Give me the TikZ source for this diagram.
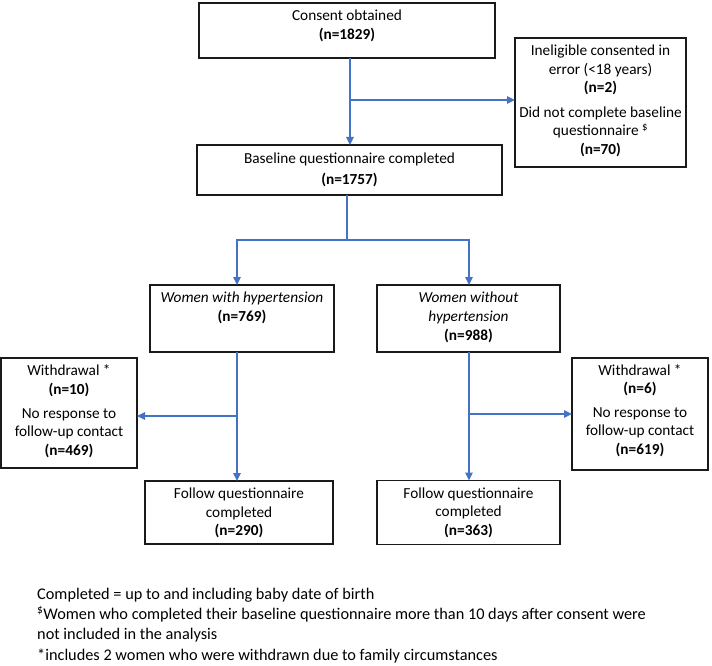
\documentclass[tikz,border=0pt]{standalone}
\usepackage{fontspec}
\setmainfont{Carlito}
\usetikzlibrary{arrows.meta}
\definecolor{flow}{HTML}{4472C4}
\definecolor{edge}{HTML}{1A1A1A}
\begin{document}
\begin{tikzpicture}[x=1pt,y=-1pt,
  box/.style={draw=edge, line width=1.1pt, inner sep=0pt, outer sep=0pt},
  arr/.style={draw=flow, line width=1.4pt, -{Triangle[length=8pt,width=7.5pt]}},
  ln/.style={draw=flow, line width=1.1pt},
  tx/.style={inner sep=0pt, anchor=mid, font=\fontsize{15.3}{18}\selectfont},
  bx/.style={tx, font=\fontsize{15.3}{18}\selectfont\bfseries},
  itx/.style={tx, font=\fontsize{15.3}{18}\selectfont\itshape},
  fn/.style={inner sep=0pt, anchor=mid west, font=\fontsize{16.3}{18}\selectfont}]
\useasboundingbox[fill=white] (0,0) rectangle (712,666);

% boxes
\node[box, minimum width=296pt, minimum height=55pt] (consent) at (347,30.5) {};
\node[box, minimum width=171pt, minimum height=129pt] (inelig) at (600.5,102.5) {};
\node[box, minimum width=305pt, minimum height=50pt] (baseline) at (349.5,170) {};
\node[box, minimum width=184pt, minimum height=67pt] (hyp) at (242,318.5) {};
\node[box, minimum width=183pt, minimum height=67pt] (nohyp) at (468.5,318.5) {};
\node[box, minimum width=136pt, minimum height=110pt] (wdL) at (69,413) {};
\node[box, minimum width=136pt, minimum height=112pt] (wdR) at (640,414) {};
\node[box, minimum width=188pt, minimum height=63pt] (folL) at (239,512.5) {};
\node[box, minimum width=183pt, minimum height=64pt] (folR) at (468.5,512.5) {};

% texts
\node[tx] (c1) at (347,18) {Consent obtained};
\node[bx] (c2) at (347,37) {(n=1829)};

\node[tx] (i1) at (600.5,53) {Ineligible consented in};
\node[tx] (i2) at (600.5,72) {error (<18 years)};
\node[bx] (i3) at (600.5,90) {(n=2)};
\node[tx] (i4) at (600.5,115) {Did not complete baseline};
\node[tx] (i5) at (600.5,133) {questionnaire \textsuperscript{\$}};
\node[bx] (i6) at (600.5,152) {(n=70)};

\node[tx] (b1) at (349.5,161) {Baseline questionnaire completed};
\node[bx] (b2) at (349.5,182) {(n=1757)};

\node[itx] (h1) at (242,300) {Women with hypertension};
\node[bx] (h2) at (242,319) {(n=769)};

\node[itx] (n1) at (468.5,300) {Women without};
\node[itx] (n2) at (468.5,319) {hypertension};
\node[bx] (n3) at (468.5,338) {(n=988)};

\node[tx] (l1) at (69,373) {Withdrawal *};
\node[bx] (l2) at (69,392) {(n=10)};
\node[tx] (l3) at (69,416) {No response to};
\node[tx] (l4) at (69,434) {follow-up contact};
\node[bx] (l5) at (69,453) {(n=469)};

\node[tx] (r1) at (640,373) {Withdrawal *};
\node[bx] (r2) at (640,391) {(n=6)};
\node[tx] (r3) at (640,415) {No response to};
\node[tx] (r4) at (640,433) {follow-up contact};
\node[bx] (r5) at (640,452) {(n=619)};

\node[tx] (fl1) at (239,496) {Follow questionnaire};
\node[tx] (fl2) at (239,515) {completed};
\node[bx] (fl3) at (239,533) {(n=290)};

\node[tx] (fr1) at (468.5,496) {Follow questionnaire};
\node[tx] (fr2) at (468.5,514) {completed};
\node[bx] (fr3) at (468.5,533) {(n=363)};

% footnotes
\node[fn] (f1) at (37,597) {Completed = up to and including baby date of birth};
\node[fn] (f2) at (37,617) {\textsuperscript{\$}Women who completed their baseline questionnaire more than 10 days after consent were};
\node[fn] (f3) at (37,637) {not included in the analysis};
\node[fn] (f4) at (37,658) {*includes 2 women who were withdrawn due to family circumstances};

% connectors
\coordinate (vA) at (350,0);
\coordinate (brA) at (350,100);
\coordinate (split) at (347,240);
\coordinate (hx) at (237,0);
\coordinate (nx) at (469,0);
\coordinate (brL) at (237,416);
\coordinate (brR) at (469,414);

\draw[arr] (consent.south -| vA) -- (baseline.north -| vA);
\draw[arr] (brA) -- (brA -| inelig.west);
\draw[ln] (baseline.south -| split) -- (split);
\draw[arr] (split) -| (hyp.north -| hx);
\draw[arr] (split) -| (nohyp.north -| nx);
\draw[arr] (hyp.south -| hx) -- (folL.north -| hx);
\draw[arr] (brL) -- (brL -| wdL.east);
\draw[arr] (nohyp.south -| nx) -- (folR.north -| nx);
\draw[arr] (brR) -- (brR -| wdR.west);
\end{tikzpicture}
\end{document}
